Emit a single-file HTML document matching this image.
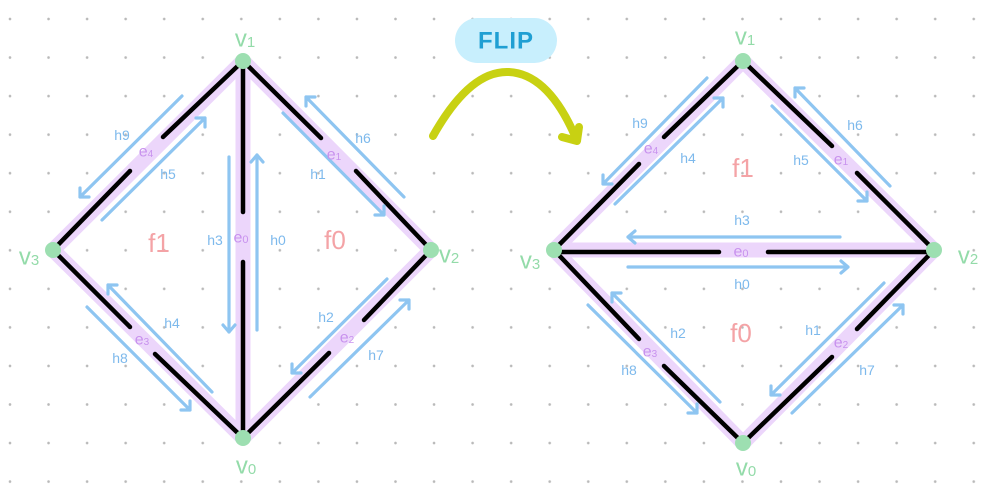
<!DOCTYPE html>
<html><head><meta charset="utf-8"><style>
html,body{margin:0;padding:0;background:#fff;}
svg{display:block;}
text{font-family:"Liberation Sans","DejaVu Sans",sans-serif;}
.h{fill:#7db9ec;font-size:14px;}
.e{fill:#c892ee;font-size:16px;}
.f{fill:#f4a3a6;font-size:26px;}
.v{fill:#93dba9;font-size:24px;}
</style></head><body>
<svg width="1002" height="500" viewBox="0 0 1002 500" xmlns="http://www.w3.org/2000/svg">
<defs>
<pattern id="dots" x="-9.275" y="-0.275" width="38.55" height="38.55" patternUnits="userSpaceOnUse">
<circle cx="19.275" cy="19.275" r="1.3" fill="#b9b9b9"/>
</pattern>
</defs>
<rect width="1002" height="500" fill="#fff"/>
<rect width="1002" height="500" fill="url(#dots)"/>

<!-- ============ LEFT DIAMOND ============ -->
<g stroke="#ecd6fb" stroke-width="15" stroke-linecap="round" fill="none">
<line x1="243" y1="61" x2="53" y2="250"/>
<line x1="243" y1="61" x2="431" y2="250"/>
<line x1="53" y1="250" x2="243" y2="438"/>
<line x1="431" y1="250" x2="243" y2="438"/>
<line x1="243" y1="61" x2="243" y2="438"/>
</g>
<g stroke="#000" stroke-width="4.5" stroke-linecap="round" fill="none">
<line x1="243" y1="61" x2="163" y2="137"/>
<line x1="130" y1="171" x2="53" y2="250"/>
<line x1="243" y1="61" x2="321" y2="138"/>
<line x1="356" y1="171" x2="431" y2="250"/>
<line x1="243" y1="65" x2="243" y2="212"/>
<line x1="243" y1="262" x2="243" y2="438"/>
<line x1="53" y1="250" x2="130" y2="327"/>
<line x1="155" y1="354" x2="243" y2="438"/>
<line x1="431" y1="250" x2="364" y2="320"/>
<line x1="329" y1="353" x2="243" y2="438"/>
</g>
<g stroke="#8ec5f1" stroke-width="3.2" stroke-linecap="round" stroke-linejoin="round" fill="none">
<path d="M182 96 L80 197 M89 197 L80 197 L80 188"/>
<path d="M102 220 L205 118 M196 118 L205 118 L205 127"/>
<path d="M404 197 L306 97 M315 97 L306 97 L306 106"/>
<path d="M283 113 L384 215 M375 215 L384 215 L384 206"/>
<path d="M229 157 L229 332 M223 325 L229 332 L235 325"/>
<path d="M257 330 L257 155 M251 162 L257 155 L263 162"/>
<path d="M212 392 L108 285 M117 285 L108 285 L108 294"/>
<path d="M87 307 L190 410 M181 410 L190 410 L190 401"/>
<path d="M387 279 L292 373 M301 373 L292 373 L292 364"/>
<path d="M310 397 L409 300 M400 300 L409 300 L409 309"/>
</g>
<g fill="#9ddfb1">
<circle cx="243" cy="61" r="8"/>
<circle cx="53" cy="250" r="8"/>
<circle cx="431" cy="250" r="8"/>
<circle cx="243" cy="438" r="8"/>
</g>
<g text-anchor="middle" dominant-baseline="central">
<text class="h" x="122" y="135">h9</text>
<text class="h" x="168" y="174">h5</text>
<text class="h" x="363" y="138">h6</text>
<text class="h" x="318" y="174">h1</text>
<text class="h" x="215" y="240">h3</text>
<text class="h" x="278" y="240">h0</text>
<text class="h" x="172" y="323">h4</text>
<text class="h" x="120" y="358">h8</text>
<text class="h" x="326" y="317">h2</text>
<text class="h" x="376" y="355">h7</text>
<text class="e" x="146" y="152">e<tspan font-size="10" dy="2">4</tspan></text>
<text class="e" x="334" y="155">e<tspan font-size="10" dy="2">1</tspan></text>
<text class="e" x="241" y="238">e<tspan font-size="11" dy="2">0</tspan></text>
<text class="e" x="142" y="340">e<tspan font-size="10" dy="2">3</tspan></text>
<text class="e" x="347" y="338">e<tspan font-size="10" dy="2">2</tspan></text>
<text class="f" x="159" y="243">f1</text>
<text class="f" x="335" y="240">f0</text>
<text class="v" x="245" y="39">v<tspan font-size="15" dy="3">1</tspan></text>
<text class="v" x="29" y="257">v<tspan font-size="15" dy="3">3</tspan></text>
<text class="v" x="449" y="255">v<tspan font-size="15" dy="3">2</tspan></text>
<text class="v" x="246" y="466">v<tspan font-size="15" dy="3">0</tspan></text>
</g>

<!-- ============ FLIP ============ -->
<rect x="455" y="18" width="102" height="45" rx="22.5" fill="#c8effd"/>
<text x="506" y="41" text-anchor="middle" dominant-baseline="central" font-size="24" font-weight="bold" fill="#1f9fd3" letter-spacing="1">FLIP</text>
<g stroke="#c8d112" stroke-width="8" stroke-linecap="round" stroke-linejoin="round" fill="none">
<path d="M433 136 Q 470 70 509 72 Q 548 74 575 136"/>
<path d="M562 137 L577 141 L579 127"/>
</g>

<!-- ============ RIGHT DIAMOND ============ -->
<g stroke="#ecd6fb" stroke-width="15" stroke-linecap="round" fill="none">
<line x1="743" y1="61" x2="554" y2="250"/>
<line x1="743" y1="61" x2="934" y2="250"/>
<line x1="554" y1="250" x2="934" y2="250"/>
<line x1="554" y1="250" x2="743" y2="443"/>
<line x1="934" y1="250" x2="743" y2="443"/>
</g>
<g stroke="#000" stroke-width="4.5" stroke-linecap="round" fill="none">
<line x1="743" y1="61" x2="664" y2="137"/>
<line x1="639" y1="164" x2="554" y2="250"/>
<line x1="743" y1="61" x2="832" y2="146"/>
<line x1="857" y1="173" x2="934" y2="250"/>
<line x1="558" y1="252" x2="719" y2="252"/>
<line x1="768" y1="252" x2="930" y2="252"/>
<line x1="554" y1="250" x2="639" y2="339"/>
<line x1="664" y1="366" x2="743" y2="443"/>
<line x1="934" y1="250" x2="857" y2="329"/>
<line x1="832" y1="357" x2="743" y2="443"/>
</g>
<g stroke="#8ec5f1" stroke-width="3.2" stroke-linecap="round" stroke-linejoin="round" fill="none">
<path d="M707 78 L603 184 M612 184 L603 184 L603 175"/>
<path d="M615 204 L723 98 M714 98 L723 98 L723 107"/>
<path d="M890 186 L795 88 M804 88 L795 88 L795 97"/>
<path d="M772 106 L867 201 M858 201 L867 201 L867 192"/>
<path d="M840 237 L628 237 M635 231 L628 237 L635 243"/>
<path d="M628 267 L848 267 M841 261 L848 267 L841 273"/>
<path d="M720 402 L612 293 M621 293 L612 293 L612 302"/>
<path d="M588 305 L697 413 M688 413 L697 413 L697 404"/>
<path d="M884 283 L771 395 M780 395 L771 395 L771 386"/>
<path d="M792 413 L903 305 M894 305 L903 305 L903 314"/>
</g>
<g fill="#9ddfb1">
<circle cx="743" cy="61" r="8"/>
<circle cx="554" cy="250" r="8"/>
<circle cx="934" cy="250" r="8"/>
<circle cx="743" cy="443" r="8"/>
</g>
<g text-anchor="middle" dominant-baseline="central">
<text class="h" x="640" y="123">h9</text>
<text class="h" x="688" y="158">h4</text>
<text class="h" x="855" y="125">h6</text>
<text class="h" x="801" y="160">h5</text>
<text class="h" x="742" y="220">h3</text>
<text class="h" x="742" y="284">h0</text>
<text class="h" x="678" y="333">h2</text>
<text class="h" x="629" y="370">h8</text>
<text class="h" x="813" y="330">h1</text>
<text class="h" x="867" y="370">h7</text>
<text class="e" x="651" y="149">e<tspan font-size="10" dy="2">4</tspan></text>
<text class="e" x="841" y="160">e<tspan font-size="10" dy="2">1</tspan></text>
<text class="e" x="741" y="252">e<tspan font-size="11" dy="2">0</tspan></text>
<text class="e" x="650" y="352">e<tspan font-size="10" dy="2">3</tspan></text>
<text class="e" x="841" y="343">e<tspan font-size="10" dy="2">2</tspan></text>
<text class="f" x="743" y="168">f1</text>
<text class="f" x="741" y="333">f0</text>
<text class="v" x="745" y="37">v<tspan font-size="15" dy="3">1</tspan></text>
<text class="v" x="530" y="261">v<tspan font-size="15" dy="3">3</tspan></text>
<text class="v" x="968" y="256">v<tspan font-size="15" dy="3">2</tspan></text>
<text class="v" x="746" y="468">v<tspan font-size="15" dy="3">0</tspan></text>
</g>
</svg>
</body></html>
